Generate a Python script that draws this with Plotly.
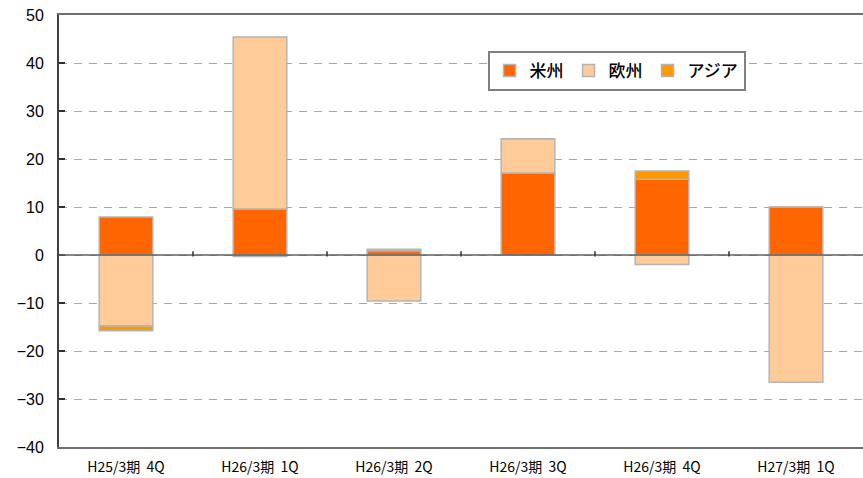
import plotly.graph_objects as go

categories = ["H25/3期  4Q", "H26/3期  1Q", "H26/3期  2Q", "H26/3期  3Q", "H26/3期  4Q", "H27/3期  1Q"]
americas = [7.9, 9.6, 0.9, 17.1, 15.8, 10.0]
europe = [-14.8, 35.8, -9.6, 7.1, -2.0, -26.5]
asia = [-1.0, -0.3, 0.3, 0.0, 1.7, 0.0]
series_names = ["米州", "欧州", "アジア"]
series_colors = ["#FF6600", "#FFCC99", "#FF9900"]
y_ticks = [-40, -30, -20, -10, 0, 10, 20, 30, 40, 50]

fig = go.Figure()
for name, vals, col in zip(series_names, [americas, europe, asia], series_colors):
    fig.add_trace(go.Bar(
        x=categories, y=vals, name=name,
        marker=dict(color=col, line=dict(color="#B4B4B4", width=1.5)),
    ))

# zero line above bars
fig.add_shape(type="line", xref="paper", yref="y", x0=0, x1=1, y0=0, y1=0,
              line=dict(color="#606060", width=1.5), layer="above")
# category boundary tick marks on the zero line
for i in range(len(categories) - 1):
    fig.add_shape(type="line", xref="x", yref="y", x0=i + 0.5, x1=i + 0.5, y0=-0.3, y1=0.8,
                  line=dict(color="#303030", width=1.5), layer="above")

fig.update_layout(
    width=863, height=478,
    margin=dict(l=59, r=0, t=15, b=31, autoexpand=False),
    paper_bgcolor="white", plot_bgcolor="white",
    barmode="relative", bargap=0.6,
    font=dict(family="Noto Sans CJK JP", color="#000000"),
    legend=dict(
        orientation="h", x=0.533, y=0.917, xanchor="left", yanchor="top",
        bordercolor="#808080", borderwidth=2, bgcolor="white",
        font=dict(size=17, family="Noto Sans CJK JP", color="#000000", weight=500),
        itemwidth=30, tracegroupgap=0,
    ),
    showlegend=True,
)
fig.update_xaxes(
    automargin=False,
    showgrid=False, showline=True, linecolor="#707070", linewidth=2, mirror=True,
    ticks="", tickfont=dict(size=14, family="Noto Sans CJK JP", color="#000000"),
    ticklabelstandoff=6,
)
fig.update_yaxes(
    automargin=False,
    range=[-40, 50], tickvals=y_ticks, showgrid=True, gridcolor="#A8A8A8",
    griddash="8px,7px", gridwidth=1, zeroline=False,
    showline=True, linecolor="#404040", linewidth=2,
    ticks="inside", ticklen=6, tickcolor="#303030", tickwidth=1.5,
    tickfont=dict(size=16, family="Liberation Sans", color="#000000"),
    ticklabelstandoff=10,
)

fig.write_html(
    "out.html",
    config={"displayModeBar": False},
    post_script="document.body.style.margin='0';document.body.style.overflow='hidden';",
)
